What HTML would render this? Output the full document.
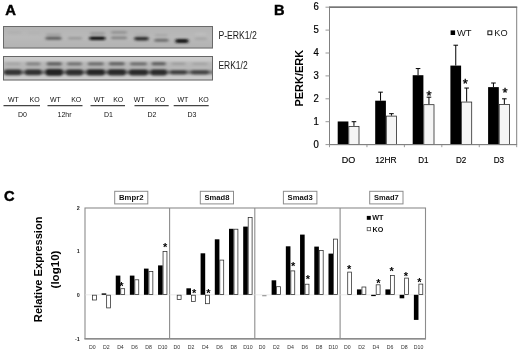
<!DOCTYPE html>
<html><head><meta charset="utf-8"><title>Figure</title>
<style>html,body{margin:0;padding:0;background:#fff;}body{width:520px;height:352px;overflow:hidden;font-family:'Liberation Sans', sans-serif;}svg{display:block;will-change:transform;}text{font-family:"Liberation Sans",sans-serif;}</style>
</head><body>
<svg width="520" height="352" viewBox="0 0 520 352">
<defs>
<filter id="blur1" x="-5%" y="-50%" width="110%" height="200%"><feGaussianBlur stdDeviation="1.5 1.05"/></filter>
<filter id="blur2" x="-5%" y="-50%" width="110%" height="200%"><feGaussianBlur stdDeviation="1.6 1.2"/></filter>
<clipPath id="clipB1"><rect x="3" y="26" width="210" height="22.5"/></clipPath>
<clipPath id="clipB2"><rect x="3" y="56" width="210" height="24.5"/></clipPath>
<linearGradient id="gradB1" x1="0" y1="0" x2="0" y2="1"><stop offset="0" stop-color="#000" stop-opacity=".03"/><stop offset=".5" stop-color="#000" stop-opacity="0"/><stop offset="1" stop-color="#000" stop-opacity=".04"/></linearGradient>
</defs>
<rect x="0" y="0" width="520" height="352" fill="#fff"/>
<text x="5.15" y="14.8" font-size="14.8" font-weight="bold" text-anchor="start" fill="#000" stroke="#000" stroke-width=".45">A</text>
<g clip-path="url(#clipB1)">
<rect x="3" y="26" width="210" height="22.5" fill="#b9b9b9"/>
<rect x="3" y="26" width="210" height="22.5" fill="url(#gradB1)"/>
<g filter="url(#blur1)">
<rect x="8" y="31.20" width="13" height="2.6" rx="1.3" fill="#a8a8a8" opacity="0.5"/>
<rect x="28" y="31.80" width="12" height="2.4" rx="1.2" fill="#aaaaaa" opacity="0.4"/>
<rect x="45.5" y="36.70" width="16.0" height="3.0" rx="1.5" fill="#565656" opacity="0.95"/>
<rect x="46" y="33.50" width="15" height="2.2" rx="1.1" fill="#969696" opacity="0.7"/>
<rect x="68" y="36.90" width="14" height="2.6" rx="1.3" fill="#8e8e8e" opacity="0.8"/>
<rect x="89.3" y="36.50" width="16.10000000000001" height="3.4" rx="1.7" fill="#0c0c0c" opacity="1"/>
<rect x="90" y="32.10" width="15" height="2.6" rx="1.3" fill="#949494" opacity="0.8"/>
<rect x="111" y="36.50" width="16" height="2.8" rx="1.4" fill="#808080" opacity="0.95"/>
<rect x="111" y="31.00" width="16" height="2.8" rx="1.4" fill="#8e8e8e" opacity="0.9"/>
<rect x="134.2" y="36.80" width="14.600000000000023" height="3.6" rx="1.8" fill="#2e2e2e" opacity="1"/>
<rect x="135" y="33.60" width="13" height="2.0" rx="1.0" fill="#a2a2a2" opacity="0.5"/>
<rect x="154.3" y="38.80" width="14.199999999999989" height="3.0" rx="1.5" fill="#6c6c6c" opacity="1"/>
<rect x="155" y="34.10" width="12.5" height="2.2" rx="1.1" fill="#9c9c9c" opacity="0.65"/>
<rect x="175.2" y="38.90" width="13.400000000000006" height="4.0" rx="2.0" fill="#141414" opacity="1"/>
<rect x="194.8" y="37.60" width="12.199999999999989" height="2.4" rx="1.2" fill="#9e9e9e" opacity="0.7"/>
<rect x="195" y="32.90" width="11" height="2.2" rx="1.1" fill="#c4c4c4" opacity="0.6"/>
</g></g>
<rect x="3.5" y="26.5" width="209" height="21.5" fill="none" stroke="#6a6a6a" stroke-width="1"/>
<g clip-path="url(#clipB2)">
<rect x="3" y="56" width="210" height="24.5" fill="#cbcbcb"/>
<g filter="url(#blur2)">
<rect x="0" y="70.4" width="216" height="3.8" fill="#5a5a5a" opacity=".8"/>
<rect x="0" y="61.5" width="216" height="13" fill="#909090" opacity=".35"/>
<rect x="5.5" y="62.40" width="15.0" height="2.8" rx="1.4" fill="#a4a4a4"/>
<rect x="4.0" y="69.30" width="18.0" height="6.0" rx="3.0" fill="#343434"/>
<rect x="26" y="62.20" width="14.5" height="3.2" rx="1.6" fill="#828282"/>
<rect x="24.5" y="69.30" width="17.5" height="6.0" rx="3.0" fill="#323232"/>
<rect x="46.5" y="61.90" width="15.5" height="3.8" rx="1.9" fill="#646464"/>
<rect x="45.0" y="68.85" width="18.5" height="6.9" rx="3.45" fill="#242424"/>
<rect x="67" y="62.20" width="15" height="3.2" rx="1.6" fill="#707070"/>
<rect x="65.5" y="69.15" width="18" height="6.3" rx="3.15" fill="#2e2e2e"/>
<rect x="87.7" y="62.20" width="16.099999999999994" height="3.2" rx="1.6" fill="#6a6a6a"/>
<rect x="86.2" y="69.05" width="19.099999999999994" height="6.5" rx="3.25" fill="#262626"/>
<rect x="108.8" y="62.10" width="16.0" height="3.4" rx="1.7" fill="#646464"/>
<rect x="107.3" y="69.05" width="19.0" height="6.5" rx="3.25" fill="#2a2a2a"/>
<rect x="130" y="62.20" width="17" height="3.2" rx="1.6" fill="#6c6c6c"/>
<rect x="128.5" y="69.15" width="20" height="6.3" rx="3.15" fill="#2c2c2c"/>
<rect x="151.5" y="62.10" width="14.5" height="3.4" rx="1.7" fill="#606060"/>
<rect x="150.0" y="69.15" width="17.5" height="6.3" rx="3.15" fill="#2c2c2c"/>
<rect x="171.5" y="62.60" width="14.0" height="2.4" rx="1.2" fill="#9c9c9c"/>
<rect x="170.0" y="70.00" width="17.0" height="4.6" rx="2.3" fill="#404040"/>
<rect x="192.3" y="62.70" width="15.199999999999989" height="2.2" rx="1.1" fill="#a2a2a2"/>
<rect x="190.8" y="70.00" width="18.19999999999999" height="4.6" rx="2.3" fill="#444444"/>
</g></g>
<rect x="3.5" y="56.5" width="209" height="23.5" fill="none" stroke="#666" stroke-width="1"/>
<text x="218.4" y="38.9" font-size="10" font-weight="normal" text-anchor="start" fill="#1a1a1a" textLength="38.4" lengthAdjust="spacingAndGlyphs">P-ERK1/2</text>
<text x="218.4" y="68.6" font-size="10" font-weight="normal" text-anchor="start" fill="#1a1a1a" textLength="29.2" lengthAdjust="spacingAndGlyphs">ERK1/2</text>
<text x="8" y="102.1" font-size="7" font-weight="normal" text-anchor="start" fill="#111" >WT</text>
<text x="29.5" y="102.1" font-size="7" font-weight="normal" text-anchor="start" fill="#111" >KO</text>
<line x1="3.5" y1="105.6" x2="40" y2="105.6" stroke="#444" stroke-width="1.1"/>
<text x="22.5" y="117.1" font-size="7" font-weight="normal" text-anchor="middle" fill="#111" >D0</text>
<text x="50" y="102.1" font-size="7" font-weight="normal" text-anchor="start" fill="#111" >WT</text>
<text x="71.2" y="102.1" font-size="7" font-weight="normal" text-anchor="start" fill="#111" >KO</text>
<line x1="47.5" y1="105.6" x2="82.5" y2="105.6" stroke="#444" stroke-width="1.1"/>
<text x="64.6" y="117.1" font-size="7" font-weight="normal" text-anchor="middle" fill="#111" >12hr</text>
<text x="93.7" y="102.1" font-size="7" font-weight="normal" text-anchor="start" fill="#111" >WT</text>
<text x="113.2" y="102.1" font-size="7" font-weight="normal" text-anchor="start" fill="#111" >KO</text>
<line x1="90.5" y1="105.6" x2="125" y2="105.6" stroke="#444" stroke-width="1.1"/>
<text x="108.5" y="117.1" font-size="7" font-weight="normal" text-anchor="middle" fill="#111" >D1</text>
<text x="133.7" y="102.1" font-size="7" font-weight="normal" text-anchor="start" fill="#111" >WT</text>
<text x="155" y="102.1" font-size="7" font-weight="normal" text-anchor="start" fill="#111" >KO</text>
<line x1="134.5" y1="105.6" x2="168.7" y2="105.6" stroke="#444" stroke-width="1.1"/>
<text x="152" y="117.1" font-size="7" font-weight="normal" text-anchor="middle" fill="#111" >D2</text>
<text x="177.5" y="102.1" font-size="7" font-weight="normal" text-anchor="start" fill="#111" >WT</text>
<text x="198.7" y="102.1" font-size="7" font-weight="normal" text-anchor="start" fill="#111" >KO</text>
<line x1="173.7" y1="105.6" x2="208.7" y2="105.6" stroke="#444" stroke-width="1.1"/>
<text x="192" y="117.1" font-size="7" font-weight="normal" text-anchor="middle" fill="#111" >D3</text>
<text x="273.9" y="14.8" font-size="14.6" font-weight="bold" text-anchor="start" fill="#000" stroke="#000" stroke-width=".45">B</text>
<rect x="329.5" y="7.2" width="187.20000000000005" height="137.4" fill="#fff" stroke="#808080" stroke-width="1"/>
<line x1="329.0" y1="7.2" x2="517.2" y2="7.2" stroke="#666" stroke-width="1.2"/>
<line x1="325.5" y1="144.60" x2="329.5" y2="144.60" stroke="#999" stroke-width="1"/>
<text x="318.8" y="147.80" font-size="10" font-weight="normal" text-anchor="end" fill="#000" textLength="5.3" lengthAdjust="spacingAndGlyphs" stroke="#000" stroke-width=".2">0</text>
<line x1="325.5" y1="121.70" x2="329.5" y2="121.70" stroke="#999" stroke-width="1"/>
<text x="318.8" y="124.90" font-size="10" font-weight="normal" text-anchor="end" fill="#000" textLength="5.3" lengthAdjust="spacingAndGlyphs" stroke="#000" stroke-width=".2">1</text>
<line x1="325.5" y1="98.80" x2="329.5" y2="98.80" stroke="#999" stroke-width="1"/>
<text x="318.8" y="102.00" font-size="10" font-weight="normal" text-anchor="end" fill="#000" textLength="5.3" lengthAdjust="spacingAndGlyphs" stroke="#000" stroke-width=".2">2</text>
<line x1="325.5" y1="75.90" x2="329.5" y2="75.90" stroke="#999" stroke-width="1"/>
<text x="318.8" y="79.10" font-size="10" font-weight="normal" text-anchor="end" fill="#000" textLength="5.3" lengthAdjust="spacingAndGlyphs" stroke="#000" stroke-width=".2">3</text>
<line x1="325.5" y1="53.00" x2="329.5" y2="53.00" stroke="#999" stroke-width="1"/>
<text x="318.8" y="56.20" font-size="10" font-weight="normal" text-anchor="end" fill="#000" textLength="5.3" lengthAdjust="spacingAndGlyphs" stroke="#000" stroke-width=".2">4</text>
<line x1="325.5" y1="30.10" x2="329.5" y2="30.10" stroke="#999" stroke-width="1"/>
<text x="318.8" y="33.30" font-size="10" font-weight="normal" text-anchor="end" fill="#000" textLength="5.3" lengthAdjust="spacingAndGlyphs" stroke="#000" stroke-width=".2">5</text>
<line x1="325.5" y1="7.20" x2="329.5" y2="7.20" stroke="#999" stroke-width="1"/>
<text x="318.8" y="10.40" font-size="10" font-weight="normal" text-anchor="end" fill="#000" textLength="5.3" lengthAdjust="spacingAndGlyphs" stroke="#000" stroke-width=".2">6</text>
<line x1="329.50" y1="144.6" x2="329.50" y2="147.2" stroke="#999" stroke-width="1"/>
<line x1="366.94" y1="144.6" x2="366.94" y2="147.2" stroke="#999" stroke-width="1"/>
<line x1="404.38" y1="144.6" x2="404.38" y2="147.2" stroke="#999" stroke-width="1"/>
<line x1="441.82" y1="144.6" x2="441.82" y2="147.2" stroke="#999" stroke-width="1"/>
<line x1="479.26" y1="144.6" x2="479.26" y2="147.2" stroke="#999" stroke-width="1"/>
<line x1="516.70" y1="144.6" x2="516.70" y2="147.2" stroke="#999" stroke-width="1"/>
<rect x="337.70" y="121.47" width="10.7" height="23.13" fill="#000"/>
<rect x="348.80" y="126.39" width="10.2" height="18.21" fill="#f5f5f5" stroke="#2a2a2a" stroke-width=".8"/>
<path d="M353.95 125.89V121.70M351.65 121.70H356.25" stroke="#000" stroke-width="1" fill="none"/>
<text x="348.40" y="162.5" font-size="9" font-weight="normal" text-anchor="middle" fill="#000" textLength="13.5" lengthAdjust="spacingAndGlyphs" stroke="#000" stroke-width=".15">DO</text>
<rect x="375.20" y="100.70" width="10.7" height="43.90" fill="#000"/>
<path d="M380.55 100.70V92.16M378.25 92.16H382.85" stroke="#000" stroke-width="1" fill="none"/>
<rect x="386.30" y="116.11" width="10.2" height="28.49" fill="#f5f5f5" stroke="#2a2a2a" stroke-width=".8"/>
<path d="M391.45 115.61V113.68M389.15 113.68H393.75" stroke="#000" stroke-width="1" fill="none"/>
<text x="385.90" y="162.5" font-size="9" font-weight="normal" text-anchor="middle" fill="#000" textLength="21.5" lengthAdjust="spacingAndGlyphs" stroke="#000" stroke-width=".15">12HR</text>
<rect x="412.70" y="75.21" width="10.7" height="69.39" fill="#000"/>
<path d="M418.05 75.21V68.57M415.75 68.57H420.35" stroke="#000" stroke-width="1" fill="none"/>
<rect x="423.80" y="104.68" width="10.2" height="39.92" fill="#f5f5f5" stroke="#2a2a2a" stroke-width=".8"/>
<path d="M428.95 104.18V97.20M426.65 97.20H431.25" stroke="#000" stroke-width="1" fill="none"/>
<text x="429" y="99.80" font-size="13" font-weight="normal" text-anchor="middle" fill="#000" stroke="#000" stroke-width=".35">*</text>
<text x="423.40" y="162.5" font-size="9" font-weight="normal" text-anchor="middle" fill="#000" textLength="10.3" lengthAdjust="spacingAndGlyphs" stroke="#000" stroke-width=".15">D1</text>
<rect x="450.40" y="65.59" width="10.7" height="79.01" fill="#000"/>
<path d="M455.75 65.59V45.21M453.45 45.21H458.05" stroke="#000" stroke-width="1" fill="none"/>
<rect x="461.50" y="102.05" width="10.2" height="42.55" fill="#f5f5f5" stroke="#2a2a2a" stroke-width=".8"/>
<path d="M466.65 101.55V88.04M464.35 88.04H468.95" stroke="#000" stroke-width="1" fill="none"/>
<text x="465.2" y="87.50" font-size="13" font-weight="normal" text-anchor="middle" fill="#000" stroke="#000" stroke-width=".35">*</text>
<text x="461.10" y="162.5" font-size="9" font-weight="normal" text-anchor="middle" fill="#000" textLength="10.3" lengthAdjust="spacingAndGlyphs" stroke="#000" stroke-width=".15">D2</text>
<rect x="488.10" y="87.12" width="10.7" height="57.48" fill="#000"/>
<path d="M493.45 87.12V83.00M491.15 83.00H495.75" stroke="#000" stroke-width="1" fill="none"/>
<rect x="499.20" y="104.57" width="10.2" height="40.03" fill="#f5f5f5" stroke="#2a2a2a" stroke-width=".8"/>
<path d="M504.35 104.07V98.80M502.05 98.80H506.65" stroke="#000" stroke-width="1" fill="none"/>
<text x="505" y="96.50" font-size="13" font-weight="normal" text-anchor="middle" fill="#000" stroke="#000" stroke-width=".35">*</text>
<text x="498.80" y="162.5" font-size="9" font-weight="normal" text-anchor="middle" fill="#000" textLength="10.3" lengthAdjust="spacingAndGlyphs" stroke="#000" stroke-width=".15">D3</text>
<line x1="329.5" y1="144.6" x2="516.7" y2="144.6" stroke="#808080" stroke-width="1"/>
<rect x="450.6" y="30.4" width="4.5" height="4.6" fill="#000"/>
<text x="457" y="36.2" font-size="9.4" font-weight="normal" text-anchor="start" fill="#111" >WT</text>
<rect x="487.9" y="30.9" width="3.9" height="3.8" fill="#fff" stroke="#111" stroke-width="1"/>
<text x="494.3" y="36.2" font-size="9.2" font-weight="normal" text-anchor="start" fill="#111" >KO</text>
<text transform="translate(303,78.2) rotate(-90)" font-size="10.5" font-weight="bold" text-anchor="middle" fill="#000" textLength="56.8" lengthAdjust="spacingAndGlyphs">PERK/ERK</text>
<text x="3.9" y="200.5" font-size="14.6" font-weight="bold" text-anchor="start" fill="#000" stroke="#000" stroke-width=".45">C</text>
<rect x="85.0" y="208.0" width="340.5" height="130.8" fill="#fff" stroke="#8c8c8c" stroke-width="1.1"/>
<line x1="169.6" y1="208.0" x2="169.6" y2="338.8" stroke="#8c8c8c" stroke-width="1.1"/>
<line x1="254.8" y1="208.0" x2="254.8" y2="338.8" stroke="#8c8c8c" stroke-width="1.1"/>
<line x1="340.1" y1="208.0" x2="340.1" y2="338.8" stroke="#8c8c8c" stroke-width="1.1"/>
<line x1="84.5" y1="338.8" x2="426.0" y2="338.8" stroke="#8c8c8c" stroke-width="1.4"/>
<text x="79.8" y="209.95" font-size="5.4" font-weight="bold" text-anchor="end" fill="#222" >2</text>
<text x="79.8" y="253.35" font-size="5.4" font-weight="bold" text-anchor="end" fill="#222" >1</text>
<text x="79.8" y="296.75" font-size="5.4" font-weight="bold" text-anchor="end" fill="#222" >0</text>
<text x="79.8" y="340.55" font-size="5.4" font-weight="bold" text-anchor="end" fill="#222" >-1</text>
<line x1="85.0" y1="294.8" x2="425.5" y2="294.8" stroke="#dcdcdc" stroke-width=".6"/>
<rect x="114.7" y="191.3" width="33.10000000000001" height="12.6" fill="#fff" stroke="#8c8c8c" stroke-width="1"/>
<text x="131.25" y="200.1" font-size="7.7" font-weight="bold" text-anchor="middle" fill="#111" textLength="24.5" lengthAdjust="spacingAndGlyphs">Bmpr2</text>
<rect x="200.3" y="191.3" width="33.19999999999999" height="12.6" fill="#fff" stroke="#8c8c8c" stroke-width="1"/>
<text x="216.90" y="200.1" font-size="7.7" font-weight="bold" text-anchor="middle" fill="#111" textLength="25.0" lengthAdjust="spacingAndGlyphs">Smad8</text>
<rect x="283.4" y="191.3" width="33.5" height="12.6" fill="#fff" stroke="#8c8c8c" stroke-width="1"/>
<text x="300.15" y="200.1" font-size="7.7" font-weight="bold" text-anchor="middle" fill="#111" textLength="25.2" lengthAdjust="spacingAndGlyphs">Smad3</text>
<rect x="369.7" y="191.3" width="33.30000000000001" height="12.6" fill="#fff" stroke="#8c8c8c" stroke-width="1"/>
<text x="386.35" y="200.1" font-size="7.7" font-weight="bold" text-anchor="middle" fill="#111" textLength="24.6" lengthAdjust="spacingAndGlyphs">Smad7</text>
<rect x="92.55" y="295.20" width="3.90" height="4.80" fill="#fff" stroke="#2a2a2a" stroke-width=".75"/>
<text x="92.25" y="348.7" font-size="5.2" font-weight="normal" text-anchor="middle" fill="#333" >D0</text>
<rect x="101.65" y="293.40" width="4.6" height="1.40" fill="#000"/>
<rect x="106.65" y="295.20" width="3.90" height="12.70" fill="#fff" stroke="#2a2a2a" stroke-width=".75"/>
<text x="106.35" y="348.7" font-size="5.2" font-weight="normal" text-anchor="middle" fill="#333" >D2</text>
<rect x="115.75" y="275.60" width="4.6" height="19.20" fill="#000"/>
<rect x="120.75" y="288.70" width="3.90" height="5.70" fill="#fff" stroke="#2a2a2a" stroke-width=".75"/>
<text x="120.45" y="348.7" font-size="5.2" font-weight="normal" text-anchor="middle" fill="#333" >D4</text>
<rect x="129.85" y="275.60" width="4.6" height="19.20" fill="#000"/>
<rect x="134.85" y="279.80" width="3.90" height="14.60" fill="#fff" stroke="#2a2a2a" stroke-width=".75"/>
<text x="134.55" y="348.7" font-size="5.2" font-weight="normal" text-anchor="middle" fill="#333" >D6</text>
<rect x="143.95" y="268.60" width="4.6" height="26.20" fill="#000"/>
<rect x="148.95" y="271.50" width="3.90" height="22.90" fill="#fff" stroke="#2a2a2a" stroke-width=".75"/>
<text x="148.65" y="348.7" font-size="5.2" font-weight="normal" text-anchor="middle" fill="#333" >D8</text>
<rect x="158.05" y="265.40" width="4.6" height="29.40" fill="#000"/>
<rect x="163.05" y="251.50" width="3.90" height="42.90" fill="#fff" stroke="#2a2a2a" stroke-width=".75"/>
<text x="162.75" y="348.7" font-size="5.2" font-weight="normal" text-anchor="middle" fill="#333" >D10</text>
<text x="121.3" y="289.80" font-size="11" font-weight="bold" text-anchor="middle" fill="#000" >*</text>
<text x="165.2" y="251.00" font-size="11" font-weight="bold" text-anchor="middle" fill="#000" >*</text>
<rect x="177.20" y="295.20" width="3.90" height="4.40" fill="#fff" stroke="#2a2a2a" stroke-width=".75"/>
<text x="176.90" y="348.7" font-size="5.2" font-weight="normal" text-anchor="middle" fill="#333" >D0</text>
<rect x="186.40" y="288.30" width="4.6" height="6.50" fill="#000"/>
<rect x="191.40" y="295.20" width="3.90" height="6.30" fill="#fff" stroke="#2a2a2a" stroke-width=".75"/>
<text x="191.10" y="348.7" font-size="5.2" font-weight="normal" text-anchor="middle" fill="#333" >D2</text>
<rect x="200.60" y="253.30" width="4.6" height="41.50" fill="#000"/>
<rect x="205.60" y="295.20" width="3.90" height="8.50" fill="#fff" stroke="#2a2a2a" stroke-width=".75"/>
<text x="205.30" y="348.7" font-size="5.2" font-weight="normal" text-anchor="middle" fill="#333" >D4</text>
<rect x="214.80" y="239.30" width="4.6" height="55.50" fill="#000"/>
<rect x="219.80" y="260.10" width="3.90" height="34.30" fill="#fff" stroke="#2a2a2a" stroke-width=".75"/>
<text x="219.50" y="348.7" font-size="5.2" font-weight="normal" text-anchor="middle" fill="#333" >D6</text>
<rect x="229.00" y="228.80" width="4.6" height="66.00" fill="#000"/>
<rect x="234.00" y="229.20" width="3.90" height="65.20" fill="#fff" stroke="#2a2a2a" stroke-width=".75"/>
<text x="233.70" y="348.7" font-size="5.2" font-weight="normal" text-anchor="middle" fill="#333" >D8</text>
<rect x="243.20" y="226.60" width="4.6" height="68.20" fill="#000"/>
<rect x="248.20" y="217.50" width="3.90" height="76.90" fill="#fff" stroke="#2a2a2a" stroke-width=".75"/>
<text x="247.90" y="348.7" font-size="5.2" font-weight="normal" text-anchor="middle" fill="#333" >D10</text>
<text x="194.2" y="296.70" font-size="11" font-weight="bold" text-anchor="middle" fill="#000" >*</text>
<text x="208.5" y="296.70" font-size="11" font-weight="bold" text-anchor="middle" fill="#000" >*</text>
<text x="262.11" y="348.7" font-size="5.2" font-weight="normal" text-anchor="middle" fill="#333" >D0</text>
<rect x="271.62" y="280.30" width="4.6" height="14.50" fill="#000"/>
<rect x="276.62" y="286.70" width="3.90" height="7.70" fill="#fff" stroke="#2a2a2a" stroke-width=".75"/>
<text x="276.33" y="348.7" font-size="5.2" font-weight="normal" text-anchor="middle" fill="#333" >D2</text>
<rect x="285.84" y="246.30" width="4.6" height="48.50" fill="#000"/>
<rect x="290.84" y="270.90" width="3.90" height="23.50" fill="#fff" stroke="#2a2a2a" stroke-width=".75"/>
<text x="290.54" y="348.7" font-size="5.2" font-weight="normal" text-anchor="middle" fill="#333" >D4</text>
<rect x="300.06" y="234.60" width="4.6" height="60.20" fill="#000"/>
<rect x="305.06" y="284.20" width="3.90" height="10.20" fill="#fff" stroke="#2a2a2a" stroke-width=".75"/>
<text x="304.76" y="348.7" font-size="5.2" font-weight="normal" text-anchor="middle" fill="#333" >D6</text>
<rect x="314.28" y="246.60" width="4.6" height="48.20" fill="#000"/>
<rect x="319.28" y="250.50" width="3.90" height="43.90" fill="#fff" stroke="#2a2a2a" stroke-width=".75"/>
<text x="318.98" y="348.7" font-size="5.2" font-weight="normal" text-anchor="middle" fill="#333" >D8</text>
<rect x="328.49" y="253.60" width="4.6" height="41.20" fill="#000"/>
<rect x="333.49" y="239.10" width="3.90" height="55.30" fill="#fff" stroke="#2a2a2a" stroke-width=".75"/>
<text x="333.19" y="348.7" font-size="5.2" font-weight="normal" text-anchor="middle" fill="#333" >D10</text>
<text x="293.2" y="269.70" font-size="11" font-weight="bold" text-anchor="middle" fill="#000" >*</text>
<text x="307.8" y="282.80" font-size="11" font-weight="bold" text-anchor="middle" fill="#000" >*</text>
<rect x="347.72" y="272.10" width="3.90" height="22.30" fill="#fff" stroke="#2a2a2a" stroke-width=".75"/>
<text x="347.42" y="348.7" font-size="5.2" font-weight="normal" text-anchor="middle" fill="#333" >D0</text>
<rect x="356.95" y="289.40" width="4.6" height="5.40" fill="#000"/>
<rect x="361.95" y="287.00" width="3.90" height="7.40" fill="#fff" stroke="#2a2a2a" stroke-width=".75"/>
<text x="361.65" y="348.7" font-size="5.2" font-weight="normal" text-anchor="middle" fill="#333" >D2</text>
<rect x="371.18" y="294.80" width="4.6" height="1.30" fill="#000"/>
<rect x="376.18" y="284.80" width="3.90" height="9.60" fill="#fff" stroke="#2a2a2a" stroke-width=".75"/>
<text x="375.88" y="348.7" font-size="5.2" font-weight="normal" text-anchor="middle" fill="#333" >D4</text>
<rect x="385.42" y="289.40" width="4.6" height="5.40" fill="#000"/>
<rect x="390.42" y="275.60" width="3.90" height="18.80" fill="#fff" stroke="#2a2a2a" stroke-width=".75"/>
<text x="390.12" y="348.7" font-size="5.2" font-weight="normal" text-anchor="middle" fill="#333" >D6</text>
<rect x="399.65" y="294.80" width="4.6" height="3.50" fill="#000"/>
<rect x="404.65" y="278.10" width="3.90" height="16.30" fill="#fff" stroke="#2a2a2a" stroke-width=".75"/>
<text x="404.35" y="348.7" font-size="5.2" font-weight="normal" text-anchor="middle" fill="#333" >D8</text>
<rect x="413.88" y="294.80" width="4.6" height="25.10" fill="#000"/>
<rect x="418.88" y="284.10" width="3.90" height="10.30" fill="#fff" stroke="#2a2a2a" stroke-width=".75"/>
<text x="418.58" y="348.7" font-size="5.2" font-weight="normal" text-anchor="middle" fill="#333" >D10</text>
<text x="349.2" y="273.40" font-size="11" font-weight="bold" text-anchor="middle" fill="#000" >*</text>
<text x="378.3" y="286.50" font-size="11" font-weight="bold" text-anchor="middle" fill="#000" >*</text>
<text x="391.7" y="275.20" font-size="11" font-weight="bold" text-anchor="middle" fill="#000" >*</text>
<text x="405.9" y="279.80" font-size="11" font-weight="bold" text-anchor="middle" fill="#000" >*</text>
<text x="419.4" y="285.50" font-size="11" font-weight="bold" text-anchor="middle" fill="#000" >*</text>
<rect x="262.2" y="295" width="4.3" height="1.3" fill="#a0a0a0"/>
<rect x="366.8" y="215.9" width="4.0" height="3.9" fill="#000"/>
<text x="372.3" y="220" font-size="7.2" font-weight="bold" text-anchor="start" fill="#111" >WT</text>
<rect x="367.2" y="227.4" width="3.4" height="3.3" fill="#fff" stroke="#555" stroke-width=".8"/>
<text x="372.5" y="231.5" font-size="7.2" font-weight="bold" text-anchor="start" fill="#111" >KO</text>
<text transform="translate(42.3,269.3) rotate(-90)" font-size="11.1" font-weight="bold" text-anchor="middle" fill="#000" textLength="105.7" lengthAdjust="spacingAndGlyphs">Relative Expression</text>
<text transform="translate(59.2,269.5) rotate(-90)" font-size="11.1" font-weight="bold" text-anchor="middle" fill="#000" textLength="37.9" lengthAdjust="spacingAndGlyphs">(log10)</text>
</svg>
</body></html>
